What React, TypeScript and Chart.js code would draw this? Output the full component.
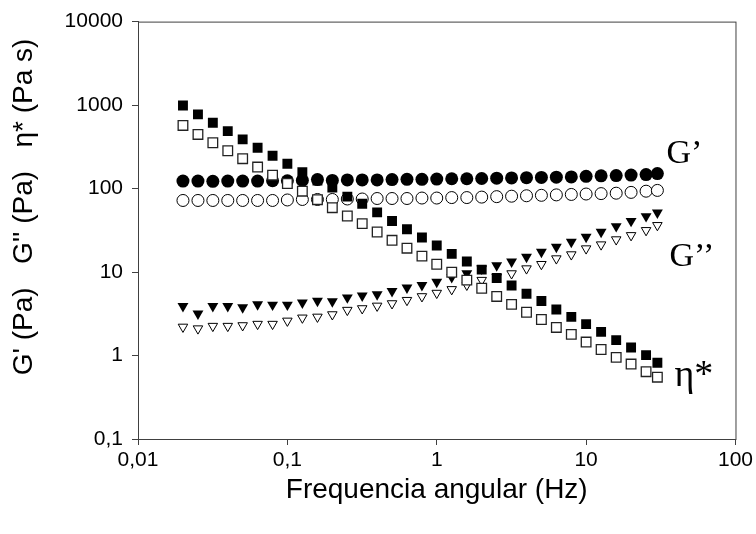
import React, { useEffect, useRef } from 'react';
import { Chart, registerables } from 'chart.js';

Chart.register(...registerables);

// Angular frequency (Hz)
const freq = [0.02, 0.0252, 0.0317, 0.0399, 0.0502, 0.0632, 0.0796, 0.1, 0.126, 0.159, 0.2, 0.252, 0.317, 0.399, 0.502, 0.632, 0.796, 1.0, 1.26, 1.59, 2.0, 2.52, 3.17, 3.99, 5.02, 6.32, 7.96, 10.0, 12.6, 15.9, 20.0, 25.2, 30];

// G' (Pa)
const gPrimeFilled = [123, 123, 122, 123, 123, 123, 124, 124, 125, 128, 125, 127, 127, 127, 128, 129, 129, 130, 131, 131, 132, 133, 134, 135, 136, 137, 138, 140, 142, 143, 145, 147, 151];
const gPrimeOpen = [72, 72, 72, 72, 72, 72, 72, 73, 74, 74, 74, 75, 75, 76, 76, 76, 77, 77, 78, 78, 79, 80, 81, 82, 83, 84, 85, 86, 87, 88, 90, 93, 95];

// eta* (Pa s)
const etaFilled = [990, 773, 614, 488, 388, 308, 247, 198, 157, 125, 103, 80, 65.8, 51.9, 40.8, 32.5, 25.9, 20.8, 16.5, 13.4, 10.7, 8.5, 6.9, 5.5, 4.5, 3.56, 2.9, 2.38, 1.92, 1.53, 1.25, 1.01, 0.82];
const etaOpen = [570, 445, 354, 284, 228, 181, 145, 115, 93, 73.6, 59, 46.9, 38, 30.2, 24, 19.3, 15.5, 12.4, 9.95, 8.0, 6.4, 5.1, 4.1, 3.3, 2.7, 2.17, 1.79, 1.45, 1.18, 0.95, 0.79, 0.64, 0.55];

// G'' (Pa)
const gDoubleFilled = [3.9, 3.18, 3.9, 3.9, 3.76, 4.1, 4.05, 4.05, 4.3, 4.5, 4.45, 4.95, 5.2, 5.4, 5.9, 6.5, 6.95, 7.6, 8.7, 9.6, 11.0, 12.0, 13.3, 15.2, 17.4, 20, 22.9, 26.3, 30.2, 35.3, 40.8, 46.5, 51.5];
const gDoubleOpen = [2.2, 2.1, 2.25, 2.25, 2.29, 2.38, 2.38, 2.6, 2.83, 2.9, 3.1, 3.5, 3.66, 3.93, 4.2, 4.6, 5.1, 5.6, 6.2, 7.0, 8.0, 8.7, 9.6, 11.0, 12.4, 14.5, 16.2, 19.1, 21.3, 24.5, 27.5, 31.6, 36.3];

// Axis ticks
const xTicks = [0.01, 0.1, 1, 10, 100];
const yTicks = [0.1, 1, 10, 100, 1000, 10000];

// Curve labels (text, x in Hz, y in value at baseline)
const labelTexts = ['G\u2019', 'G\u2019\u2019', '\u03b7*'];
const labelX = [34.5, 36.2, 39];
const labelY = [200, 11.7, 0.43];

const yTitle = "\u00a0\u00a0\u00a0\u00a0\u00a0\u00a0G' (Pa)   G'' (Pa)   \u03b7* (Pa s)";

const fmt = (v: number) => String(v).replace('.', ',');

const pts = (arr: number[]) => freq.map((x, i) => ({ x, y: arr[i] }));

const framePlugin = {
  id: 'frame',
  afterDraw(chart: any) {
    const { ctx, chartArea } = chart;
    ctx.save();
    ctx.strokeStyle = '#404040';
    ctx.lineWidth = 1;
    ctx.strokeRect(chartArea.left + 0.5, chartArea.top + 0.5, chartArea.right - chartArea.left, chartArea.bottom - chartArea.top);
    ctx.restore();
  },
};

const labelPlugin = {
  id: 'curveLabels',
  afterDatasetsDraw(chart: any) {
    const { ctx } = chart;
    const xs = chart.scales.x;
    const ys = chart.scales.y;
    ctx.save();
    ctx.fillStyle = '#000';
    ctx.textAlign = 'left';
    ctx.textBaseline = 'alphabetic';
    labelTexts.forEach((t, i) => {
      ctx.font = (i === 2 ? '38px' : '34px') + ' "Liberation Serif", "Times New Roman", serif';
      ctx.fillText(t, xs.getPixelForValue(labelX[i]), ys.getPixelForValue(labelY[i]));
    });
    ctx.restore();
  },
};

export default function App() {
  const ref = useRef<HTMLCanvasElement | null>(null);

  useEffect(() => {
    if (!ref.current) return;
    Chart.defaults.font.family = '"Liberation Sans", Arial, sans-serif';
    const chart = new Chart(ref.current, {
      type: 'scatter',
      data: {
        datasets: [
          { label: 'eta* A', data: pts(etaFilled), pointStyle: 'rect', pointRadius: 7, backgroundColor: '#000', borderColor: '#000', borderWidth: 0 },
          { label: 'eta* B', data: pts(etaOpen), pointStyle: 'rect', pointRadius: 6.8, backgroundColor: '#fff', borderColor: '#222', borderWidth: 1.3 },
          { label: "G'' A", data: pts(gDoubleFilled), pointStyle: 'triangle', rotation: 180, pointRadius: 6.3, backgroundColor: '#000', borderColor: '#000', borderWidth: 0 },
          { label: "G'' B", data: pts(gDoubleOpen), pointStyle: 'triangle', rotation: 180, pointRadius: 5.5, backgroundColor: '#fff', borderColor: '#000', borderWidth: 1 },
          { label: "G' A", data: pts(gPrimeFilled), pointStyle: 'circle', pointRadius: 6.5, backgroundColor: '#000', borderColor: '#000', borderWidth: 0 },
          { label: "G' B", data: pts(gPrimeOpen), pointStyle: 'circle', pointRadius: 6, backgroundColor: '#fff', borderColor: '#000', borderWidth: 1 },
        ] as any,
      },
      options: {
        animation: false,
        responsive: true,
        maintainAspectRatio: false,
        layout: { padding: { left: 0, right: 20, top: 21, bottom: 0 } },
        plugins: { legend: { display: false }, tooltip: { enabled: false } },
        scales: {
          x: {
            type: 'logarithmic',
            position: 'bottom',
            min: 0.01,
            max: 100,
            afterBuildTicks: (s: any) => { s.ticks = xTicks.map((v) => ({ value: v })); },
            afterFit: (s: any) => { s.height = 95; },
            ticks: { callback: (v: any) => fmt(Number(v)), color: '#000', font: { size: 21 }, padding: 3, maxRotation: 0, autoSkip: false },
            grid: { drawOnChartArea: false, drawTicks: true, tickLength: 6, color: '#404040' },
            border: { display: true, color: '#404040', width: 1 },
            title: { display: true, text: 'Frequencia angular (Hz)', color: '#000', font: { size: 28 }, padding: { top: 0, bottom: 27 } },
          },
          y: {
            type: 'logarithmic',
            position: 'left',
            min: 0.1,
            max: 10000,
            afterBuildTicks: (s: any) => { s.ticks = yTicks.map((v) => ({ value: v })); },
            afterFit: (s: any) => { s.width = 138; },
            ticks: { callback: (v: any) => fmt(Number(v)), color: '#000', font: { size: 21 }, padding: 9, autoSkip: false },
            grid: { drawOnChartArea: false, drawTicks: true, tickLength: 6, color: '#404040' },
            border: { display: true, color: '#404040', width: 1 },
            title: { display: true, text: yTitle, color: '#000', font: { size: 28 }, padding: { top: 7, bottom: 0 } },
          },
        },
      } as any,
      plugins: [framePlugin, labelPlugin],
    });
    return () => chart.destroy();
  }, []);

  return (
    <div style={{ position: 'absolute', left: 0, top: 0, width: 756, height: 534 }}>
      <canvas ref={ref} />
    </div>
  );
}
